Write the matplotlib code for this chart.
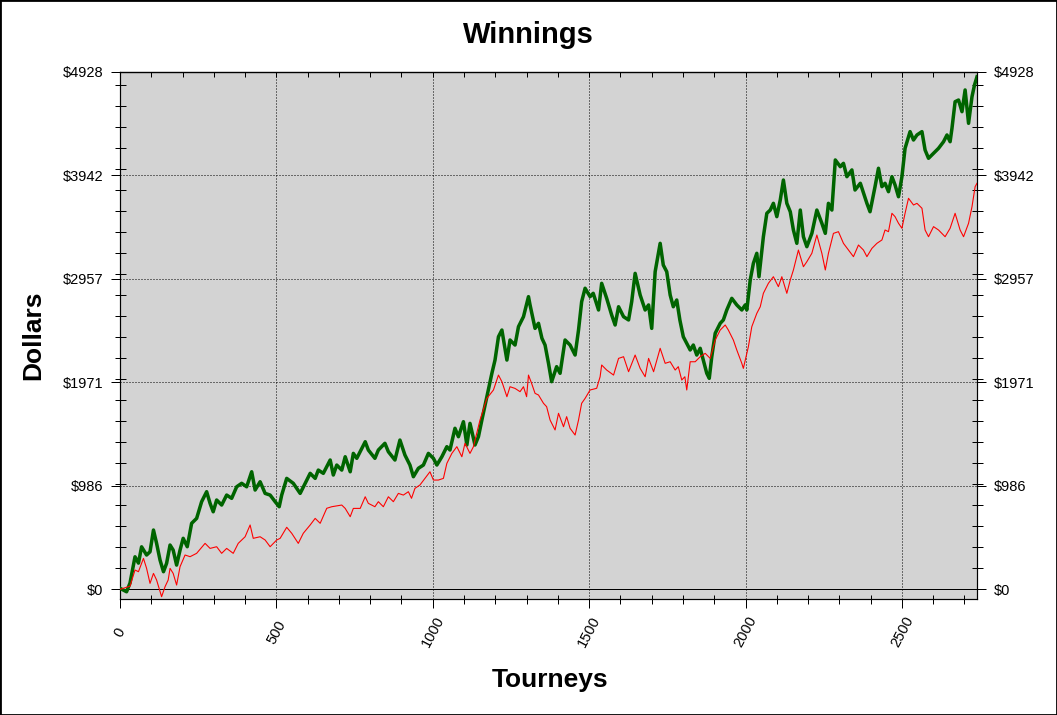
import numpy as np
import matplotlib
matplotlib.use("Agg")
import matplotlib.pyplot as plt
from matplotlib.ticker import FixedLocator, MultipleLocator, FuncFormatter
from matplotlib.patches import Rectangle

plt.rcParams['font.family'] = ['Liberation Sans', 'DejaVu Sans']

# winnings (tourney number, dollars)
green_t = [0, 21, 32, 48, 59, 69, 85, 96, 107, 117, 128, 139, 149, 160, 170, 181, 192, 202, 215, 229,
           245, 261, 277, 288, 298, 309, 325, 341, 357, 373, 389, 405, 421, 432, 448, 464, 480, 496, 509, 517,
           533, 554, 576, 592, 608, 624, 634, 650, 672, 682, 693, 709, 720, 736, 746, 757, 784, 794, 815, 826,
           847, 858, 879, 895, 911, 927, 938, 954, 970, 986, 1002, 1013, 1029, 1045, 1055, 1071, 1082, 1098, 1109, 1119,
           1135, 1146, 1157, 1173, 1189, 1199, 1210, 1221, 1237, 1247, 1263, 1274, 1290, 1306, 1311, 1327, 1338, 1349, 1359, 1370,
           1380, 1396, 1407, 1423, 1439, 1455, 1466, 1476, 1487, 1503, 1513, 1530, 1540, 1556, 1572, 1583, 1594, 1610, 1626, 1636,
           1647, 1663, 1679, 1690, 1700, 1711, 1727, 1737, 1748, 1759, 1769, 1780, 1790, 1801, 1812, 1823, 1833, 1844, 1855, 1865,
           1876, 1884, 1892, 1903, 1919, 1929, 1940, 1956, 1972, 1988, 1999, 2004, 2015, 2025, 2036, 2043, 2057, 2068, 2079, 2089,
           2100, 2111, 2121, 2132, 2143, 2153, 2164, 2175, 2185, 2196, 2212, 2228, 2244, 2255, 2265, 2276, 2287, 2303, 2313, 2324,
           2340, 2350, 2367, 2388, 2398, 2414, 2425, 2436, 2446, 2457, 2468, 2478, 2489, 2500, 2510, 2526, 2537, 2548, 2564, 2574,
           2585, 2601, 2617, 2633, 2644, 2654, 2660, 2670, 2681, 2692, 2702, 2713, 2724, 2732, 2740]
green_v = [10, -23, 60, 310, 250, 405, 327, 358, 565, 438, 279, 168, 248, 422, 374, 231, 374, 486, 406, 629,
           676, 835, 930, 819, 739, 851, 803, 898, 867, 977, 1010, 977, 1120, 946, 1025, 914, 898, 835, 787, 898,
           1057, 1010, 914, 1010, 1105, 1057, 1136, 1105, 1232, 1089, 1184, 1136, 1263, 1120, 1295, 1248, 1406, 1327, 1248, 1327,
           1391, 1311, 1232, 1422, 1279, 1184, 1073, 1153, 1184, 1295, 1248, 1184, 1263, 1359, 1327, 1534, 1454, 1597, 1375, 1581,
           1375, 1454, 1613, 1835, 2058, 2184, 2406, 2470, 2184, 2375, 2327, 2502, 2597, 2788, 2709, 2486, 2534, 2391, 2327, 2153,
           1978, 2121, 2058, 2375, 2327, 2232, 2470, 2740, 2868, 2788, 2820, 2661, 2915, 2772, 2613, 2518, 2692, 2597, 2566, 2740,
           3010, 2804, 2661, 2709, 2486, 3026, 3296, 3089, 3026, 2804, 2692, 2756, 2566, 2406, 2343, 2280, 2327, 2232, 2296, 2184,
           2058, 2010, 2216, 2439, 2534, 2566, 2661, 2772, 2709, 2661, 2709, 2661, 2947, 3105, 3201, 2978, 3359, 3582, 3613, 3677,
           3550, 3709, 3899, 3677, 3597, 3423, 3296, 3613, 3359, 3264, 3391, 3613, 3487, 3391, 3677, 3613, 4090, 4026, 4058, 3931,
           3995, 3804, 3868, 3677, 3597, 3836, 4011, 3836, 3868, 3788, 3931, 3852, 3740, 3931, 4201, 4360, 4280, 4328, 4360, 4185,
           4106, 4154, 4201, 4264, 4328, 4264, 4392, 4645, 4661, 4550, 4757, 4439, 4693, 4804, 4883]

red_t = [0, 32, 48, 59, 75, 85, 96, 107, 117, 133, 144, 154, 160, 170, 181, 192, 208, 224, 245, 272,
         288, 309, 325, 341, 362, 378, 400, 416, 426, 448, 464, 480, 501, 512, 533, 549, 570, 586, 608, 624,
         640, 661, 677, 709, 720, 736, 746, 768, 784, 794, 815, 826, 842, 858, 874, 890, 906, 922, 932, 943,
         959, 975, 991, 1002, 1018, 1034, 1045, 1061, 1077, 1093, 1103, 1119, 1130, 1151, 1173, 1194, 1210, 1221, 1237, 1247,
         1263, 1279, 1290, 1300, 1306, 1316, 1327, 1338, 1354, 1364, 1375, 1391, 1402, 1418, 1428, 1439, 1455, 1466, 1476, 1487,
         1503, 1524, 1535, 1540, 1556, 1578, 1594, 1610, 1626, 1647, 1663, 1679, 1690, 1706, 1727, 1743, 1759, 1775, 1785, 1796,
         1806, 1812, 1823, 1839, 1855, 1871, 1887, 1903, 1919, 1935, 1945, 1961, 1972, 1988, 1993, 2009, 2020, 2036, 2047, 2057,
         2073, 2089, 2105, 2116, 2132, 2143, 2153, 2169, 2185, 2196, 2212, 2228, 2244, 2255, 2265, 2281, 2297, 2313, 2329, 2345,
         2361, 2377, 2388, 2404, 2420, 2436, 2446, 2457, 2468, 2478, 2489, 2500, 2510, 2521, 2537, 2548, 2564, 2574, 2585, 2601,
         2617, 2638, 2654, 2670, 2686, 2697, 2713, 2724, 2734, 2740]
red_v = [0, 30, 184, 168, 295, 200, 57, 152, 89, -70, 25, 89, 200, 152, 41, 216, 327, 311, 343, 438,
         390, 406, 343, 390, 343, 438, 501, 613, 486, 501, 470, 406, 470, 486, 591, 534, 438, 534, 613, 676,
         629, 772, 787, 803, 771, 692, 771, 771, 882, 819, 787, 835, 787, 882, 835, 914, 898, 930, 867, 962,
         994, 1057, 1120, 1041, 1041, 1057, 1200, 1295, 1359, 1263, 1391, 1295, 1359, 1613, 1819, 1899, 2041, 1978, 1835, 1930,
         1914, 1883, 1930, 1835, 2041, 1962, 1867, 1851, 1772, 1740, 1613, 1518, 1677, 1549, 1645, 1534, 1470, 1613, 1772, 1819,
         1899, 1915, 2025, 2137, 2089, 2041, 2200, 2216, 2073, 2232, 2105, 2025, 2200, 2073, 2296, 2153, 2168, 2089, 2121, 1994,
         2025, 1899, 2168, 2168, 2216, 2248, 2200, 2375, 2470, 2518, 2470, 2375, 2280, 2153, 2105, 2311, 2502, 2629, 2692, 2820,
         2915, 2978, 2883, 2978, 2820, 2947, 3042, 3232, 3073, 3121, 3201, 3375, 3201, 3042, 3201, 3391, 3407, 3296, 3232, 3169,
         3280, 3232, 3169, 3248, 3296, 3328, 3423, 3407, 3582, 3550, 3487, 3439, 3582, 3725, 3661, 3677, 3630, 3423, 3359, 3455,
         3423, 3359, 3439, 3582, 3423, 3359, 3487, 3645, 3836, 3868]

y_top = 4928
y_major = [i * y_top / 5 for i in range(6)]
x_major = [0, 500, 1000, 1500, 2000, 2500]

W, H = 1057, 715
PT = 0.72  # points per pixel at dpi 100

fig = plt.figure(figsize=(W / 100, H / 100), dpi=100)
ax = fig.add_axes([120 / W, 1 - 599 / H, (977 - 120) / W, (599 - 72) / H])
ax.set_facecolor('#d3d3d3')

ax.axhline(0, color='black', linewidth=1.0 * PT, zorder=1)
ax.plot(green_t, green_v, color='#006400', linewidth=3.5 * PT, zorder=3)
ax.plot(red_t, red_v, color='#ff0000', linewidth=1.1 * PT, zorder=4)

ax.set_xlim(0, 2740)
ax.set_ylim(-92, y_top)

ax.xaxis.set_major_locator(FixedLocator(x_major))
ax.xaxis.set_minor_locator(MultipleLocator(100))
ax.yaxis.set_major_locator(FixedLocator(y_major))
ax.yaxis.set_minor_locator(MultipleLocator(200))
ax.yaxis.set_major_formatter(FuncFormatter(lambda v, p: f"${v:.0f}"))

ax.grid(True, which='major', color='black', linestyle=(0, (1, 2)), linewidth=1.0 * PT, zorder=2)
ax.set_axisbelow(False)
for s in ax.spines.values():
    s.set_linewidth(1.2 * PT)

ax.tick_params(axis='y', which='major', direction='out', length=9 * PT, width=PT, pad=8 * PT,
               labelsize=10.5, left=True, right=True, labelleft=True, labelright=True)
ax.tick_params(axis='y', which='minor', direction='inout', length=11 * PT, width=PT, left=True, right=True)
ax.tick_params(axis='x', which='major', direction='out', length=9 * PT, width=PT, pad=24 * PT,
               labelsize=10.5, top=False, labelrotation=62)
ax.tick_params(axis='x', which='minor', direction='inout', length=9 * PT, width=PT, top=False)
plt.setp(ax.get_xticklabels(), ha='center', va='center')

top = ax.secondary_xaxis('top')
top.xaxis.set_major_locator(FixedLocator(x_major))
top.xaxis.set_minor_locator(MultipleLocator(100))
top.tick_params(axis='x', which='both', direction='in', length=5 * PT, width=PT, labeltop=False)
top.spines['top'].set_linewidth(1.2 * PT)

fig.text(528.5 / W, 1 - 35 / H, 'Winnings', fontsize=21, weight='bold', ha='center', va='center')
fig.text(33 / W, 1 - 335 / H, 'Dollars', fontsize=19, weight='bold', rotation=90, ha='center', va='center')
fig.text(550 / W, 1 - 680 / H, 'Tourneys', fontsize=19, weight='bold', ha='center', va='center')

fig.patches.append(Rectangle((0, 0), 1, 1, transform=fig.transFigure, fill=False,
                             edgecolor='black', linewidth=2))

fig.savefig('out.png', dpi=100, facecolor='white')
